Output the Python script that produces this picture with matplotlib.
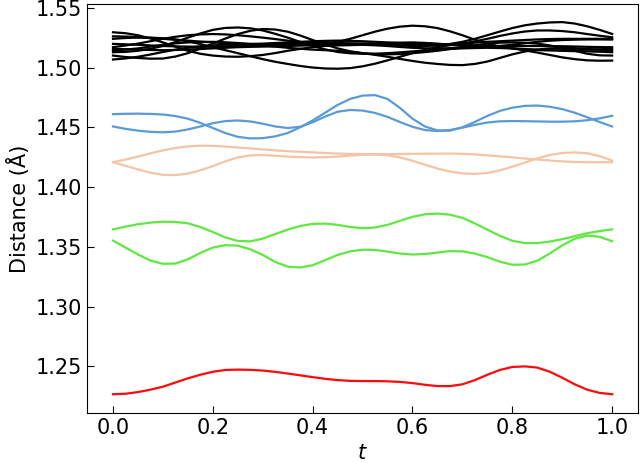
import matplotlib
matplotlib.use("Agg")
import matplotlib.pyplot as plt
import numpy as np

black_lines = [
    [1.5295, 1.5287, 1.5270, 1.5243, 1.5210, 1.5175, 1.5140, 1.5115, 1.5100, 1.5092, 1.5090,
     1.5095, 1.5105, 1.5121, 1.5140, 1.5156, 1.5170, 1.5181, 1.5190, 1.5196, 1.5200, 1.5203,
     1.5205, 1.5208, 1.5210, 1.5206, 1.5200, 1.5190, 1.5180, 1.5175, 1.5175, 1.5181, 1.5190,
     1.5203, 1.5215, 1.5224, 1.5230, 1.5233, 1.5235, 1.5235, 1.5234],
    [1.5156, 1.5153, 1.5150, 1.5147, 1.5145, 1.5147, 1.5150, 1.5155, 1.5160, 1.5165, 1.5170,
     1.5173, 1.5175, 1.5177, 1.5180, 1.5184, 1.5190, 1.5199, 1.5215, 1.5240, 1.5270, 1.5300,
     1.5325, 1.5342, 1.5350, 1.5345, 1.5330, 1.5303, 1.5270, 1.5233, 1.5200, 1.5176, 1.5160,
     1.5150, 1.5145, 1.5144, 1.5145, 1.5147, 1.5150, 1.5153, 1.5156],
    [1.5198, 1.5194, 1.5190, 1.5185, 1.5180, 1.5177, 1.5175, 1.5174, 1.5175, 1.5177, 1.5180,
     1.5185, 1.5190, 1.5195, 1.5200, 1.5203, 1.5205, 1.5206, 1.5205, 1.5203, 1.5200, 1.5195,
     1.5190, 1.5184, 1.5180, 1.5180, 1.5185, 1.5197, 1.5215, 1.5240, 1.5270, 1.5301, 1.5330,
     1.5353, 1.5368, 1.5377, 1.5380, 1.5368, 1.5345, 1.5315, 1.5281],
    [1.5128, 1.5131, 1.5140, 1.5157, 1.5180, 1.5213, 1.5250, 1.5285, 1.5315, 1.5331, 1.5335,
     1.5328, 1.5310, 1.5282, 1.5250, 1.5214, 1.5180, 1.5152, 1.5130, 1.5119, 1.5115, 1.5116,
     1.5120, 1.5127, 1.5135, 1.5143, 1.5150, 1.5156, 1.5160, 1.5163, 1.5165, 1.5163, 1.5160,
     1.5155, 1.5150, 1.5145, 1.5140, 1.5137, 1.5135, 1.5132, 1.5128],
    [1.5100, 1.5088, 1.5080, 1.5074, 1.5075, 1.5092, 1.5120, 1.5158, 1.5200, 1.5242, 1.5280,
     1.5307, 1.5322, 1.5318, 1.5300, 1.5268, 1.5230, 1.5193, 1.5160, 1.5136, 1.5120, 1.5112,
     1.5110, 1.5113, 1.5120, 1.5129, 1.5140, 1.5154, 1.5170, 1.5186, 1.5200, 1.5208, 1.5210,
     1.5207, 1.5200, 1.5185, 1.5165, 1.5140, 1.5115, 1.5102, 1.5100],
    [1.5240, 1.5247, 1.5250, 1.5250, 1.5245, 1.5235, 1.5220, 1.5196, 1.5170, 1.5145, 1.5120,
     1.5095, 1.5070, 1.5048, 1.5030, 1.5013, 1.5000, 1.4992, 1.4990, 1.4995, 1.5010, 1.5032,
     1.5060, 1.5090, 1.5120, 1.5147, 1.5170, 1.5187, 1.5200, 1.5208, 1.5215, 1.5220, 1.5225,
     1.5230, 1.5235, 1.5238, 1.5240, 1.5240, 1.5240, 1.5240, 1.5240],
    [1.5142, 1.5150, 1.5160, 1.5175, 1.5190, 1.5202, 1.5210, 1.5214, 1.5215, 1.5211, 1.5205,
     1.5196, 1.5185, 1.5175, 1.5165, 1.5157, 1.5150, 1.5145, 1.5140, 1.5131, 1.5120, 1.5106,
     1.5090, 1.5072, 1.5055, 1.5040, 1.5030, 1.5022, 1.5020, 1.5030, 1.5050, 1.5080, 1.5110,
     1.5134, 1.5150, 1.5160, 1.5165, 1.5162, 1.5155, 1.5148, 1.5142],
    [1.5067, 1.5076, 1.5090, 1.5109, 1.5130, 1.5149, 1.5165, 1.5177, 1.5185, 1.5191, 1.5195,
     1.5197, 1.5200, 1.5205, 1.5210, 1.5215, 1.5220, 1.5223, 1.5225, 1.5223, 1.5220, 1.5215,
     1.5210, 1.5205, 1.5200, 1.5197, 1.5195, 1.5193, 1.5190, 1.5186, 1.5180, 1.5171, 1.5160,
     1.5144, 1.5125, 1.5105, 1.5085, 1.5070, 1.5060, 1.5057, 1.5058],
    [1.5261, 1.5259, 1.5255, 1.5248, 1.5240, 1.5232, 1.5225, 1.5217, 1.5210, 1.5204, 1.5200,
     1.5197, 1.5195, 1.5192, 1.5190, 1.5187, 1.5185, 1.5184, 1.5185, 1.5187, 1.5190, 1.5193,
     1.5195, 1.5193, 1.5190, 1.5186, 1.5185, 1.5189, 1.5200, 1.5218, 1.5240, 1.5264, 1.5285,
     1.5301, 1.5310, 1.5310, 1.5305, 1.5295, 1.5280, 1.5266, 1.5253],
    [1.5170, 1.5184, 1.5200, 1.5220, 1.5240, 1.5257, 1.5270, 1.5277, 1.5280, 1.5277, 1.5270,
     1.5261, 1.5250, 1.5238, 1.5225, 1.5214, 1.5205, 1.5199, 1.5195, 1.5192, 1.5190, 1.5186,
     1.5180, 1.5172, 1.5165, 1.5161, 1.5160, 1.5162, 1.5165, 1.5170, 1.5175, 1.5178, 1.5180,
     1.5180, 1.5180, 1.5179, 1.5178, 1.5176, 1.5173, 1.5171, 1.5170],
]

blue_lines = [
    [1.4610, 1.4613, 1.4614, 1.4612, 1.4607, 1.4594, 1.4572, 1.4537, 1.4494, 1.4452, 1.4420,
     1.4407, 1.4409, 1.4424, 1.4452, 1.4500, 1.4557, 1.4622, 1.4687, 1.4737, 1.4765, 1.4769,
     1.4737, 1.4662, 1.4572, 1.4507, 1.4474, 1.4472, 1.4500, 1.4545, 1.4595, 1.4637, 1.4664,
     1.4679, 1.4682, 1.4672, 1.4652, 1.4622, 1.4584, 1.4544, 1.4507],
    [1.4507, 1.4487, 1.4472, 1.4462, 1.4458, 1.4464, 1.4482, 1.4507, 1.4534, 1.4552, 1.4557,
     1.4549, 1.4530, 1.4507, 1.4494, 1.4504, 1.4542, 1.4590, 1.4630, 1.4645, 1.4640, 1.4620,
     1.4587, 1.4544, 1.4504, 1.4477, 1.4469, 1.4477, 1.4497, 1.4520, 1.4540, 1.4550, 1.4552,
     1.4551, 1.4549, 1.4547, 1.4547, 1.4550, 1.4559, 1.4575, 1.4596],
]

peach_lines = [
    [1.4208, 1.4230, 1.4255, 1.4282, 1.4307, 1.4327, 1.4340, 1.4346, 1.4345, 1.4339, 1.4331,
     1.4323, 1.4315, 1.4307, 1.4300, 1.4295, 1.4290, 1.4285, 1.4280, 1.4277, 1.4275, 1.4275,
     1.4275, 1.4277, 1.4278, 1.4279, 1.4280, 1.4280, 1.4278, 1.4273, 1.4265, 1.4257, 1.4248,
     1.4239, 1.4230, 1.4222, 1.4215, 1.4210, 1.4208, 1.4208, 1.4208],
    [1.4208, 1.4178, 1.4148, 1.4120, 1.4102, 1.4100, 1.4113, 1.4140, 1.4175, 1.4215, 1.4248,
     1.4265, 1.4268, 1.4262, 1.4255, 1.4250, 1.4248, 1.4250, 1.4255, 1.4263, 1.4270, 1.4272,
     1.4266, 1.4248, 1.4220, 1.4187, 1.4155, 1.4130, 1.4114, 1.4110, 1.4118, 1.4140, 1.4170,
     1.4205, 1.4240, 1.4268, 1.4285, 1.4290, 1.4283, 1.4258, 1.4222],
]

green_lines = [
    [1.3646, 1.3669, 1.3689, 1.3703, 1.3710, 1.3708, 1.3697, 1.3666, 1.3624, 1.3579, 1.3549,
     1.3546, 1.3569, 1.3607, 1.3644, 1.3674, 1.3692, 1.3694, 1.3684, 1.3666, 1.3656, 1.3662,
     1.3684, 1.3718, 1.3751, 1.3772, 1.3778, 1.3769, 1.3742, 1.3696, 1.3644, 1.3592, 1.3551,
     1.3531, 1.3531, 1.3544, 1.3564, 1.3589, 1.3614, 1.3632, 1.3646],
    [1.3552, 1.3494, 1.3436, 1.3385, 1.3358, 1.3360, 1.3396, 1.3449, 1.3494, 1.3514, 1.3510,
     1.3479, 1.3432, 1.3374, 1.3334, 1.3327, 1.3346, 1.3389, 1.3432, 1.3462, 1.3476, 1.3474,
     1.3460, 1.3444, 1.3436, 1.3440, 1.3452, 1.3464, 1.3462, 1.3444, 1.3414, 1.3376, 1.3350,
     1.3352, 1.3384, 1.3444, 1.3512, 1.3567, 1.3594, 1.3584, 1.3547],
]

red_line = [1.2267, 1.2271, 1.2285, 1.2305, 1.2330, 1.2365, 1.2400, 1.2430, 1.2455, 1.2470, 1.2473,
            1.2471, 1.2465, 1.2454, 1.2440, 1.2425, 1.2410, 1.2396, 1.2385, 1.2379, 1.2377, 1.2377,
            1.2375, 1.2370, 1.2360, 1.2346, 1.2335, 1.2335, 1.2350, 1.2385, 1.2430, 1.2470, 1.2495,
            1.2500, 1.2490, 1.2455, 1.2405, 1.2350, 1.2305, 1.2278, 1.2267]


def tgrid(y):
    return np.linspace(0, 1, len(y))


fig = plt.figure(figsize=(6.4, 4.63), dpi=100)
ax = fig.add_axes([0.136, 0.108, 0.861, 0.883])

for y in black_lines:
    ax.plot(tgrid(y), y, color="black", lw=1.6)
for y in blue_lines:
    ax.plot(tgrid(y), y, color="#5b9bd5", lw=1.6)
for y in peach_lines:
    ax.plot(tgrid(y), y, color="#f4c4a6", lw=1.6)
for y in green_lines:
    ax.plot(tgrid(y), y, color="#5fe840", lw=1.6)
ax.plot(tgrid(red_line), red_line, color="#ff0a0a", lw=1.6)

ax.set_xlim(-0.052, 1.052)
ax.set_ylim(1.211, 1.553)
ax.set_xticks([0.0, 0.2, 0.4, 0.6, 0.8, 1.0])
ax.set_yticks([1.25, 1.30, 1.35, 1.40, 1.45, 1.50, 1.55])
ax.tick_params(direction="in", labelsize=15, length=5)
ax.set_xlabel("$t$", fontsize=15)
ax.set_ylabel("Distance (Å)", fontsize=15)

fig.savefig("out.png", dpi=100)
